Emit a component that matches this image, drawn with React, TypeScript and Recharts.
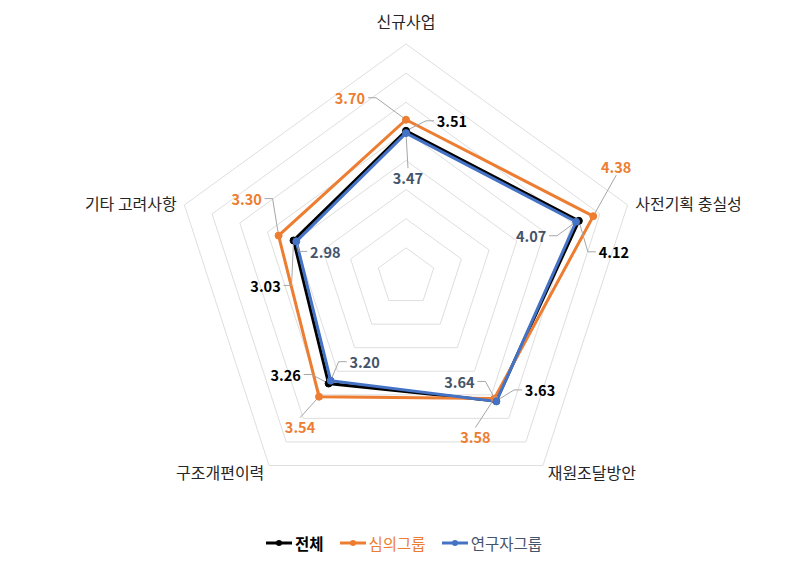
import React from "react";
import { RadarChart, Radar, PolarGrid, PolarAngleAxis, PolarRadiusAxis, Legend } from "recharts";

const categories = ["신규사업", "사전기획 충실성", "재원조달방안", "구조개편이력", "기타 고려사항"];
const totalValues = [3.51, 4.12, 3.63, 3.26, 3.03];
const reviewValues = [3.7, 4.38, 3.58, 3.54, 3.3];
const researcherValues = [3.47, 4.07, 3.64, 3.2, 2.98];
const radiusTicks = [1, 1.5, 2, 2.5, 3, 3.5, 4, 4.5, 5];

const FONT = '"Noto Sans CJK KR", "Noto Sans", sans-serif';

const data = categories.map((c, i) => ({
  subject: c,
  total: totalValues[i],
  review: reviewValues[i],
  researcher: researcherValues[i],
}));

// label offset from the point: [dx, dy, side the leader line attaches to]
type Off = [number, number, string];
const totalOffsets: Off[] = [[46, -10, "l"], [35, 31, "l"], [44, -11, "l"], [-43, -9, "r"], [-28, 45, "r"]];
const reviewOffsets: Off[] = [[-56, -22, "r"], [23, -50, "b"], [-19, 38, "t"], [-19, 30, "t"], [-32, -37, "r"]];
const researcherOffsets: Off[] = [[2, 44, "t"], [-45, 14, "r"], [-37, -20, "r"], [34, -19, "l"], [29, 10, "l"]];

const tickAnchors = ["middle", "start", "start", "end", "end"];
const tickDy = [-15, 0, 0, 0, 0];

function makeDot(color: string, labelColor: string, offsets: Off[], values: number[]) {
  return (p: any) => {
    const { cx, cy, index } = p;
    if (cx == null || cy == null) return <g key={index} />;
    const [dx, dy, side] = offsets[index];
    const lx = cx + dx;
    const ly = cy + dy;
    const hw = 16;
    let pts = "";
    if (side === "r") pts = `${lx + hw + 2},${ly} ${lx + hw + 10},${ly} ${cx},${cy}`;
    else if (side === "l") pts = `${lx - hw - 2},${ly} ${lx - hw - 10},${ly} ${cx},${cy}`;
    else if (side === "t") pts = `${lx},${ly - 9} ${cx},${cy}`;
    else pts = `${lx},${ly + 9} ${cx},${cy}`;
    return (
      <g key={index}>
        <polyline points={pts} fill="none" stroke="#A6A6A6" strokeWidth={1} />
        <circle cx={cx} cy={cy} r={3.5} fill={color} stroke={color} />
        <text x={lx} y={ly} textAnchor="middle" dominantBaseline="central" fontSize={14.5} fontWeight="bold" fill={labelColor} fontFamily={FONT}>
          {values[index].toFixed(2)}
        </text>
      </g>
    );
  };
}

const legendItems = [
  { name: "전체", color: "#000000", text: "#000000" },
  { name: "심의그룹", color: "#ED7D31", text: "#ED7D31" },
  { name: "연구자그룹", color: "#4472C4", text: "#44546A" },
];

function renderLegend() {
  return (
    <div style={{ display: "flex", justifyContent: "center", gap: 16, fontFamily: FONT, fontSize: 15.5 }}>
      {legendItems.map((it) => (
        <div key={it.name} style={{ display: "flex", alignItems: "center", gap: 3 }}>
          <svg width={26} height={10}>
            <line x1={0} y1={5} x2={26} y2={5} stroke={it.color} strokeWidth={3} />
            <circle cx={13} cy={5} r={3} fill={it.color} />
          </svg>
          <span style={{ color: it.text, fontWeight: it.name === "전체" ? "bold" : "normal" }}>{it.name}</span>
        </div>
      ))}
    </div>
  );
}

function renderTick(p: any) {
  const { x, y, payload, index } = p;
  return (
    <text x={x} y={y + tickDy[index]} textAnchor={tickAnchors[index] as any} dominantBaseline="central" fontSize={16} fill="#262626" fontFamily={FONT}>
      {payload.value}
    </text>
  );
}

export default function App() {
  return (
    <div style={{ position: "absolute", left: 0, top: 0, width: 808, height: 561, background: "#fff", fontFamily: FONT }}>
      <RadarChart width={808} height={561} data={data} cx={406} cy={277} outerRadius={233} margin={{ top: 0, right: 0, bottom: 0, left: 0 }}>
        <PolarGrid gridType="polygon" radialLines={false} stroke="#DEDEDE" />
        <PolarAngleAxis dataKey="subject" tick={renderTick} tickLine={false} axisLine={false} />
        <PolarRadiusAxis domain={[1, 5]} ticks={radiusTicks as any} angle={90} axisLine={false} tick={false} />
        <Radar name="전체" dataKey="total" stroke="#000000" strokeWidth={3} fill="none" fillOpacity={0} isAnimationActive={false} dot={makeDot("#000000", "#000000", totalOffsets, totalValues)} />
        <Radar name="심의그룹" dataKey="review" stroke="#ED7D31" strokeWidth={3} fill="none" fillOpacity={0} isAnimationActive={false} dot={makeDot("#ED7D31", "#ED7D31", reviewOffsets, reviewValues)} />
        <Radar name="연구자그룹" dataKey="researcher" stroke="#4472C4" strokeWidth={3} fill="none" fillOpacity={0} isAnimationActive={false} dot={makeDot("#4472C4", "#44546A", researcherOffsets, researcherValues)} />
        <Legend content={renderLegend} wrapperStyle={{ top: 532, left: 0, width: 808 }} />
      </RadarChart>
    </div>
  );
}
